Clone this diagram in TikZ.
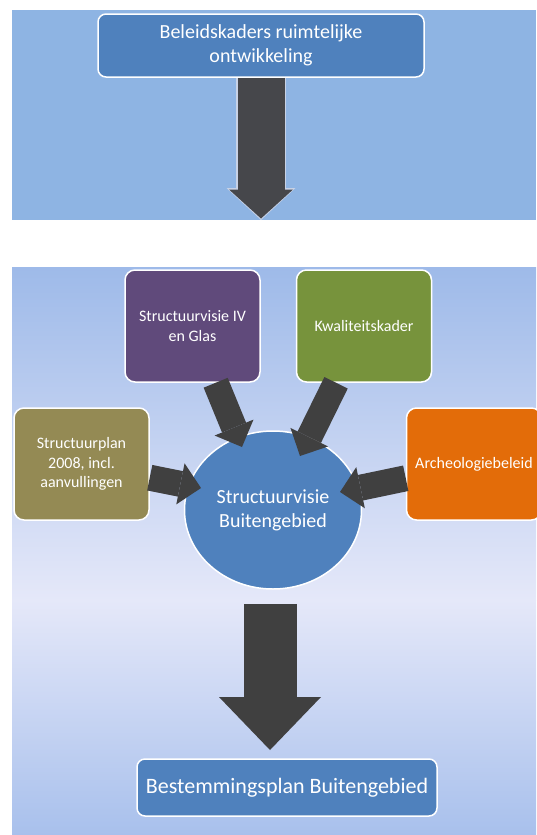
\documentclass[tikz,border=0pt]{standalone}
\usepackage{fontspec}
\setmainfont{Carlito}
\definecolor{panelblue}{RGB}{142,180,227}
\definecolor{shadetop}{RGB}{158,186,233}
\definecolor{shademid}{RGB}{229,232,249}
\definecolor{shadebot}{RGB}{168,192,236}
\definecolor{boxblue}{RGB}{79,129,189}
\definecolor{boxpurple}{RGB}{96,74,123}
\definecolor{boxgreen}{RGB}{119,147,60}
\definecolor{boxolive}{RGB}{148,138,84}
\definecolor{boxorange}{RGB}{227,108,9}
\definecolor{arrowgray}{RGB}{64,64,64}
\definecolor{toparrow}{RGB}{70,71,75}
\definecolor{arrowedge}{RGB}{200,210,230}
\usetikzlibrary{shapes.geometric, arrows.meta, calc}

\begin{document}
\begin{tikzpicture}[x=1pt, y=-1pt,
    box/.style={draw=white, line width=1.5pt, rounded corners=8pt, text=white, align=center, inner sep=0pt},
    smallbox/.style={box, rounded corners=10pt, minimum width=135pt, minimum height=112pt, font=\fontsize{16}{19.5}\selectfont},
    blockarrow/.style={arrowgray, line width=26pt, -{Triangle[width=42pt,length=21pt,line width=0pt]}}]
                \useasboundingbox (0,0) rectangle (536,835);

                % Panels
                \fill[panelblue] (12,10) rectangle (536,220);
                \shade[top color=shadetop, bottom color=shademid] (12,267) rectangle (536,600.5);
                \shade[top color=shademid, bottom color=shadebot] (12,600) rectangle (536,835);

                % Top part
                \node[box, fill=boxblue, minimum width=326pt, minimum height=63pt,
                    font=\fontsize{20}{24}\selectfont] (kader) at (261,45.5)
                    {Beleidskaders ruimtelijke\\ontwikkeling};
                \coordinate (kaderend) at (261,220);
                \draw[arrowedge, line width=50pt, -{Triangle[width=69pt,length=32pt,line width=0pt]}]
                    (kader) -- (kaderend);
                \draw[toparrow, line width=47pt, shorten >=1.5pt,
                    -{Triangle[width=64pt,length=29pt,line width=0pt]}]
                    (kader) -- (kaderend);

                % Lower part: sources
                \node[smallbox, fill=boxpurple] (svivglas) at (192.5,326) {Structuurvisie IV\\en Glas};
                \node[smallbox, fill=boxgreen] (kwaliteit) at (364,326) {Kwaliteitskader};
                \node[smallbox, fill=boxolive] (structuurplan) at (81.5,464) {Structuurplan\\2008, incl.\\aanvullingen};
                \node[smallbox, fill=boxorange] (archeologie) at (474,464) {Archeologiebeleid};

                % Centre
                \node[ellipse, draw=white, line width=1.5pt, fill=boxblue, text=white, align=center,
                    minimum width=177pt, minimum height=158pt, inner sep=0pt,
                    font=\fontsize{20}{24}\selectfont] (svbuiten) at (273,510)
                    {Structuurvisie\\Buitengebied};

                % Arrows into the centre
                \coordinate (tipivglas) at ($(svbuiten.center)+(-31,-63)$);
                \coordinate (tipkwaliteit) at ($(svbuiten.center)+(27,-54)$);
                \coordinate (tipplan) at ($(svbuiten.center)+(-72,-22)$);
                \coordinate (tiparch) at ($(svbuiten.center)+(67,-18)$);
                \draw[blockarrow] (svivglas) -- (tipivglas);
                \draw[blockarrow] (kwaliteit) -- (tipkwaliteit);
                \draw[blockarrow] (structuurplan) -- (tipplan);
                \draw[blockarrow] (archeologie) -- (tiparch);

                % Result
                \node[box, fill=boxblue, minimum width=300pt, minimum height=57pt,
                    font=\fontsize{22}{26}\selectfont] (bestemmingsplan) at (287,787.5)
                    {Bestemmingsplan Buitengebied};
                \coordinate (planend) at (270,750);
                \draw[arrowgray, line width=53pt, shorten <=14pt,
                    -{Triangle[width=102pt,length=53pt,line width=0pt]}]
                    (svbuiten.south -| planend) -- (planend);
            \end{tikzpicture}
\end{document}
